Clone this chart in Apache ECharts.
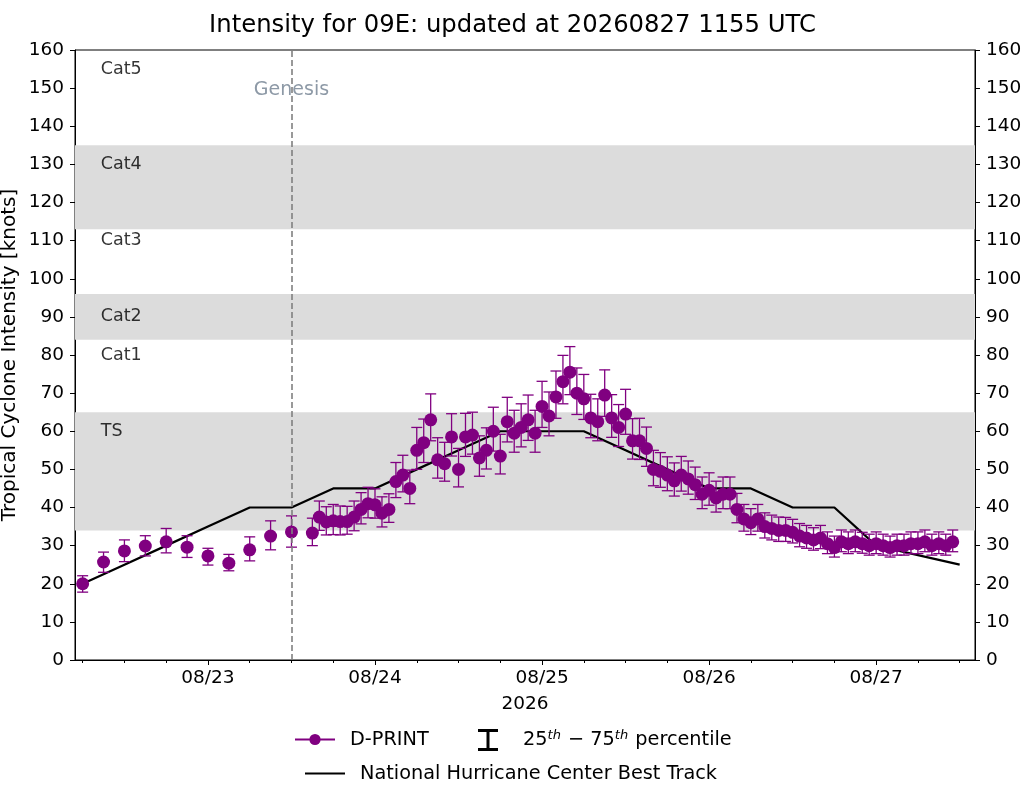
<!DOCTYPE html>
<html>
<head>
<meta charset="utf-8">
<script src="https://cdn.jsdelivr.net/npm/echarts@6.0.0/dist/echarts.min.js"></script>
<style>
  html, body { margin: 0; padding: 0; background: #fff; }
  #main { width: 1025px; height: 785px; }
</style>
</head>
<body>
<div id="main"></div>
<script>
(function () {

  // hours since 08/22 00 UTC
  var earlyHours = [6, 9, 12, 15, 18, 21, 24, 27, 30, 33, 36, 39];
  var earlyVals = [20, 25.7, 28.6, 29.9, 31, 29.6, 27.3, 25.4, 28.9, 32.5, 33.6, 33.3];
  var earlyLo = [2.2, 2.7, 2.8, 2.6, 2.9, 2.7, 2.4, 2.0, 2.9, 3.6, 4.0, 3.3];
  var earlyHi = [2.1, 2.6, 2.9, 2.7, 3.5, 3.0, 2.0, 2.3, 3.4, 4.0, 4.2, 3.9];

  // hourly retrievals from 08/23 16 UTC to 08/27 11 UTC
  var denseStart = 40;
  var denseVals = [
    37.5, 36.2, 36.5, 36.3, 36.3, 37.5, 39.5, 41, 40.7, 38.5, 39.5, 46.8, 48.5, 45,
    55, 57, 63, 52.5, 51.5, 58.5, 50, 58.5, 59, 53, 55, 60, 53.5, 62.5, 59.5, 61, 63, 59.5,
    66.5, 64, 69, 73, 75.5, 70, 68.5, 63.5, 62.5, 69.5, 63.5, 61, 64.5, 57.5, 57.5, 55.5,
    50, 49.5, 48.5, 47, 48.5, 47.5, 46, 43.5, 44.5, 42.5, 43.5, 43.5, 39.5,
    37, 36, 37, 35, 34.5, 34, 34, 33.5, 32.5, 32, 31.5, 32,
    30.5, 29.5, 31, 30.5, 31, 30.5, 30, 30.5, 30, 29.5, 30, 30, 30.5, 30.5, 31, 30, 30.5, 30, 31
  ];
  var denseLo = [
    3.5, 3.4, 3.6, 3.5, 3.3, 3.6, 3.8, 3.7, 3.5, 3.6, 3.4, 4.2, 4.4, 4.0,
    5.0, 5.2, 5.5, 4.8, 4.6, 5.0, 4.6, 5.1, 5.0, 4.8, 4.9, 5.2, 4.7, 5.3, 5.0, 5.1, 5.4, 5.0,
    5.5, 5.2, 5.6, 5.8, 5.9, 5.6, 5.4, 5.2, 5.0, 5.6, 5.1, 5.0, 5.3, 4.8, 4.9, 4.7,
    4.3, 4.2, 4.1, 4.0, 4.2, 4.0, 3.9, 3.8, 3.9, 3.7, 3.8, 3.8, 3.5,
    3.2, 3.1, 3.2, 3.0, 3.0, 2.9, 2.9, 2.8, 2.8, 2.7, 2.7, 2.8,
    2.6, 2.5, 2.6, 2.6, 2.6, 2.5, 2.5, 2.6, 2.5, 2.5, 2.5, 2.5, 2.6, 2.6, 2.6, 2.5, 2.6, 2.5, 2.6
  ];
  var denseHi = [
    4.2, 4.0, 4.3, 4.1, 4.0, 4.2, 4.4, 4.3, 4.2, 4.3, 4.1, 5.0, 5.2, 4.8,
    6.0, 6.2, 6.8, 5.8, 5.6, 6.1, 5.5, 6.2, 6.0, 5.8, 5.9, 6.3, 5.7, 6.4, 6.0, 6.2, 6.5, 6.0,
    6.6, 6.3, 6.8, 6.9, 6.7, 6.6, 6.4, 6.2, 6.0, 6.6, 6.1, 6.0, 6.5, 5.8, 5.9, 5.6,
    5.0, 4.9, 4.8, 4.7, 4.9, 4.7, 4.6, 4.5, 4.6, 4.4, 4.5, 4.5, 4.2,
    3.8, 3.7, 3.8, 3.6, 3.5, 3.5, 3.4, 3.4, 3.3, 3.3, 3.2, 3.3,
    3.1, 3.0, 3.1, 3.1, 3.1, 3.0, 3.0, 3.1, 3.0, 3.0, 3.0, 3.0, 3.1, 3.1, 3.1, 3.0, 3.1, 3.0, 3.1
  ];

  // NHC best track, 6-hourly
  var btHours = [6, 12, 18, 24, 30, 36, 42, 48, 54, 60, 66, 72, 78, 84, 90, 96, 102, 108, 114, 120, 132];
  var btVals = [20, 25, 30, 35, 40, 40, 45, 45, 50, 55, 60, 60, 60, 55, 50, 45, 45, 40, 40, 30, 25];

  var genesisHour = 36;

  var bands = [[34, 65], [84, 96], [113, 135]];
  var catNames = ['TS', 'Cat1', 'Cat2', 'Cat3', 'Cat4', 'Cat5'];
  var catLabelVals = [60, 80, 90, 110, 130, 155];
  var catLabelHour = 8.6;

  var dayHours = [24, 48, 72, 96, 120];
  var dayLabels = ['08/23', '08/24', '08/25', '08/26', '08/27'];
  var minorHours = [6, 12, 18, 30, 36, 42, 54, 60, 66, 78, 84, 90, 102, 108, 114, 126, 132];

  var FONT = 'DejaVu Sans';
  var PURPLE = '#800080';
  var TICK_FS = 18.5;

  var hours = earlyHours.slice();
  for (var i = 0; i < denseVals.length; i++) hours.push(denseStart + i);
  var vals = earlyVals.concat(denseVals);
  var lo = earlyLo.concat(denseLo);
  var hi = earlyHi.concat(denseHi);

  var pointData = [], errData = [];
  for (var k = 0; k < hours.length; k++) {
    pointData.push([hours[k], vals[k]]);
    errData.push([hours[k], vals[k] - lo[k], vals[k] + hi[k]]);
  }
  var btData = btHours.map(function (h, j) { return [h, btVals[j]]; });
  var catData = catNames.map(function (n, j) { return [catLabelHour, catLabelVals[j], n]; });

  var pctName = '25th - 75th percentile';
  var btName = 'National Hurricane Center Best Track';

  var myChart = echarts.init(document.getElementById('main'));

  var yAxisBase = {
    type: 'value', min: 0, max: 160, interval: 10,
    axisLine: { show: true, lineStyle: { color: '#000', width: 1 } },
    axisTick: { show: true, length: 5, lineStyle: { color: '#000' } },
    axisLabel: { color: '#000', fontSize: TICK_FS, fontFamily: FONT, margin: 11 },
    splitLine: { show: false }
  };

  var legendText = { fontSize: 19.3, color: '#000', fontFamily: FONT, padding: [0, 0, 0, 10] };

  var option = {
    animation: false,
    backgroundColor: '#fff',
    textStyle: { fontFamily: FONT },
    title: {
      text: 'Intensity for 09E: updated at 20260827 1155 UTC',
      left: 'center', top: 9,
      textStyle: { fontSize: 24.3, fontWeight: 'normal', color: '#000', fontFamily: FONT }
    },
    grid: {
      left: 75, right: 50, top: 50, bottom: 125,
      outerBoundsMode: 'none', containLabel: false,
      show: true, borderColor: '#000', borderWidth: 1, backgroundColor: 'transparent'
    },
    legend: [{
      left: 289, top: 725, itemWidth: 40, itemHeight: 14,
      textStyle: legendText,
      data: [{ name: 'D-PRINT', lineStyle: { opacity: 1, width: 2, color: PURPLE } }]
    }, {
      left: 473, top: 724, itemWidth: 42, itemHeight: 22,
      formatter: function () { return '25{s|th} \u2212 75{s|th} percentile'; },
      textStyle: {
        fontSize: 19.3, color: '#000', fontFamily: FONT, padding: [0, 0, 0, 9],
        rich: { s: { fontSize: 13, fontStyle: 'italic', verticalAlign: 'top', padding: [0, 1, 9, 0] } }
      },
      data: [{
        name: pctName,
        icon: 'path://M0,0L20,0L20,3L11.5,3L11.5,19L20,19L20,22L0,22L0,19L8.5,19L8.5,3L0,3Z',
        itemStyle: { color: '#000' }
      }]
    }, {
      left: 300, top: 759, itemWidth: 40, itemHeight: 14,
      textStyle: legendText,
      data: [{ name: btName, icon: 'path://M0,0L40,0L40,2L0,2Z', itemStyle: { color: '#000' } }]
    }],
    xAxis: [{
      type: 'value', min: 4.9, max: 134.2,
      name: '2026', nameLocation: 'middle', nameGap: 35,
      nameTextStyle: { fontSize: TICK_FS, color: '#000', fontFamily: FONT },
      axisLine: { show: true, lineStyle: { color: '#000' } },
      axisTick: { show: true, length: 5, customValues: dayHours, lineStyle: { color: '#000' } },
      axisLabel: {
        color: '#000', fontSize: TICK_FS, fontFamily: FONT, margin: 9,
        customValues: dayHours,
        formatter: function (v) {
          var idx = dayHours.indexOf(v);
          return idx >= 0 ? dayLabels[idx] : '';
        }
      },
      splitLine: { show: false }
    }, {
      type: 'value', min: 4.9, max: 134.2, position: 'bottom',
      axisLine: { show: false },
      axisTick: { show: true, length: 3, customValues: minorHours, lineStyle: { color: '#000' } },
      axisLabel: { show: false },
      splitLine: { show: false }
    }],
    yAxis: [
      Object.assign({}, yAxisBase, {
        position: 'left',
        name: 'Tropical Cyclone Intensity [knots]', nameLocation: 'middle', nameGap: 55,
        nameMoveOverlap: false,
        nameTextStyle: { fontSize: 20, color: '#000', fontFamily: FONT }
      }),
      Object.assign({}, yAxisBase, { position: 'right' })
    ],
    series: [{
      name: btName,
      type: 'line', z: 2,
      data: btData,
      symbol: 'none',
      lineStyle: { color: '#000', width: 2.2 },
      itemStyle: { color: '#000' },
      markArea: {
        silent: true,
        itemStyle: { color: '#dcdcdc' },
        data: bands.map(function (b) { return [{ yAxis: b[0] }, { yAxis: b[1] }]; })
      },
      markLine: {
        silent: true, symbol: 'none',
        label: { show: false },
        lineStyle: { color: '#808080', width: 1.6, type: [6, 3] },
        data: [{ xAxis: genesisHour }]
      }
    }, {
      name: pctName,
      type: 'custom', z: 3,
      data: errData,
      itemStyle: { color: '#000' },
      renderItem: function (params, api) {
        var t = api.value(0);
        var bot = api.coord([t, api.value(1)]);
        var top = api.coord([t, api.value(2)]);
        var cap = 5.5;
        var st = { stroke: PURPLE, lineWidth: 1.3 };
        return {
          type: 'group',
          children: [
            { type: 'line', shape: { x1: bot[0], y1: bot[1], x2: top[0], y2: top[1] }, style: st },
            { type: 'line', shape: { x1: bot[0] - cap, y1: bot[1], x2: bot[0] + cap, y2: bot[1] }, style: st },
            { type: 'line', shape: { x1: top[0] - cap, y1: top[1], x2: top[0] + cap, y2: top[1] }, style: st }
          ]
        };
      }
    }, {
      name: 'D-PRINT',
      type: 'line', z: 4,
      data: pointData,
      symbol: 'circle', symbolSize: 13, showSymbol: true,
      lineStyle: { opacity: 0, width: 2, color: PURPLE },
      itemStyle: { color: PURPLE, borderWidth: 0 }
    }, {
      name: 'cats',
      type: 'scatter', z: 5, silent: true,
      data: catData,
      symbolSize: 0,
      label: {
        show: true, position: 'right', distance: 0,
        formatter: function (p) { return p.data[2]; },
        fontSize: 17.5, color: '#000', fontFamily: FONT
      }
    }, {
      name: 'genesis',
      type: 'scatter', z: 5, silent: true,
      data: [[genesisHour, 149.5, 'Genesis']],
      symbolSize: 0,
      label: {
        show: true, position: 'inside',
        formatter: function (p) { return p.data[2]; },
        fontSize: 19, color: '#708090', fontFamily: FONT
      }
    }]
  };

  myChart.setOption(option);

})();
</script>
</body>
</html>
